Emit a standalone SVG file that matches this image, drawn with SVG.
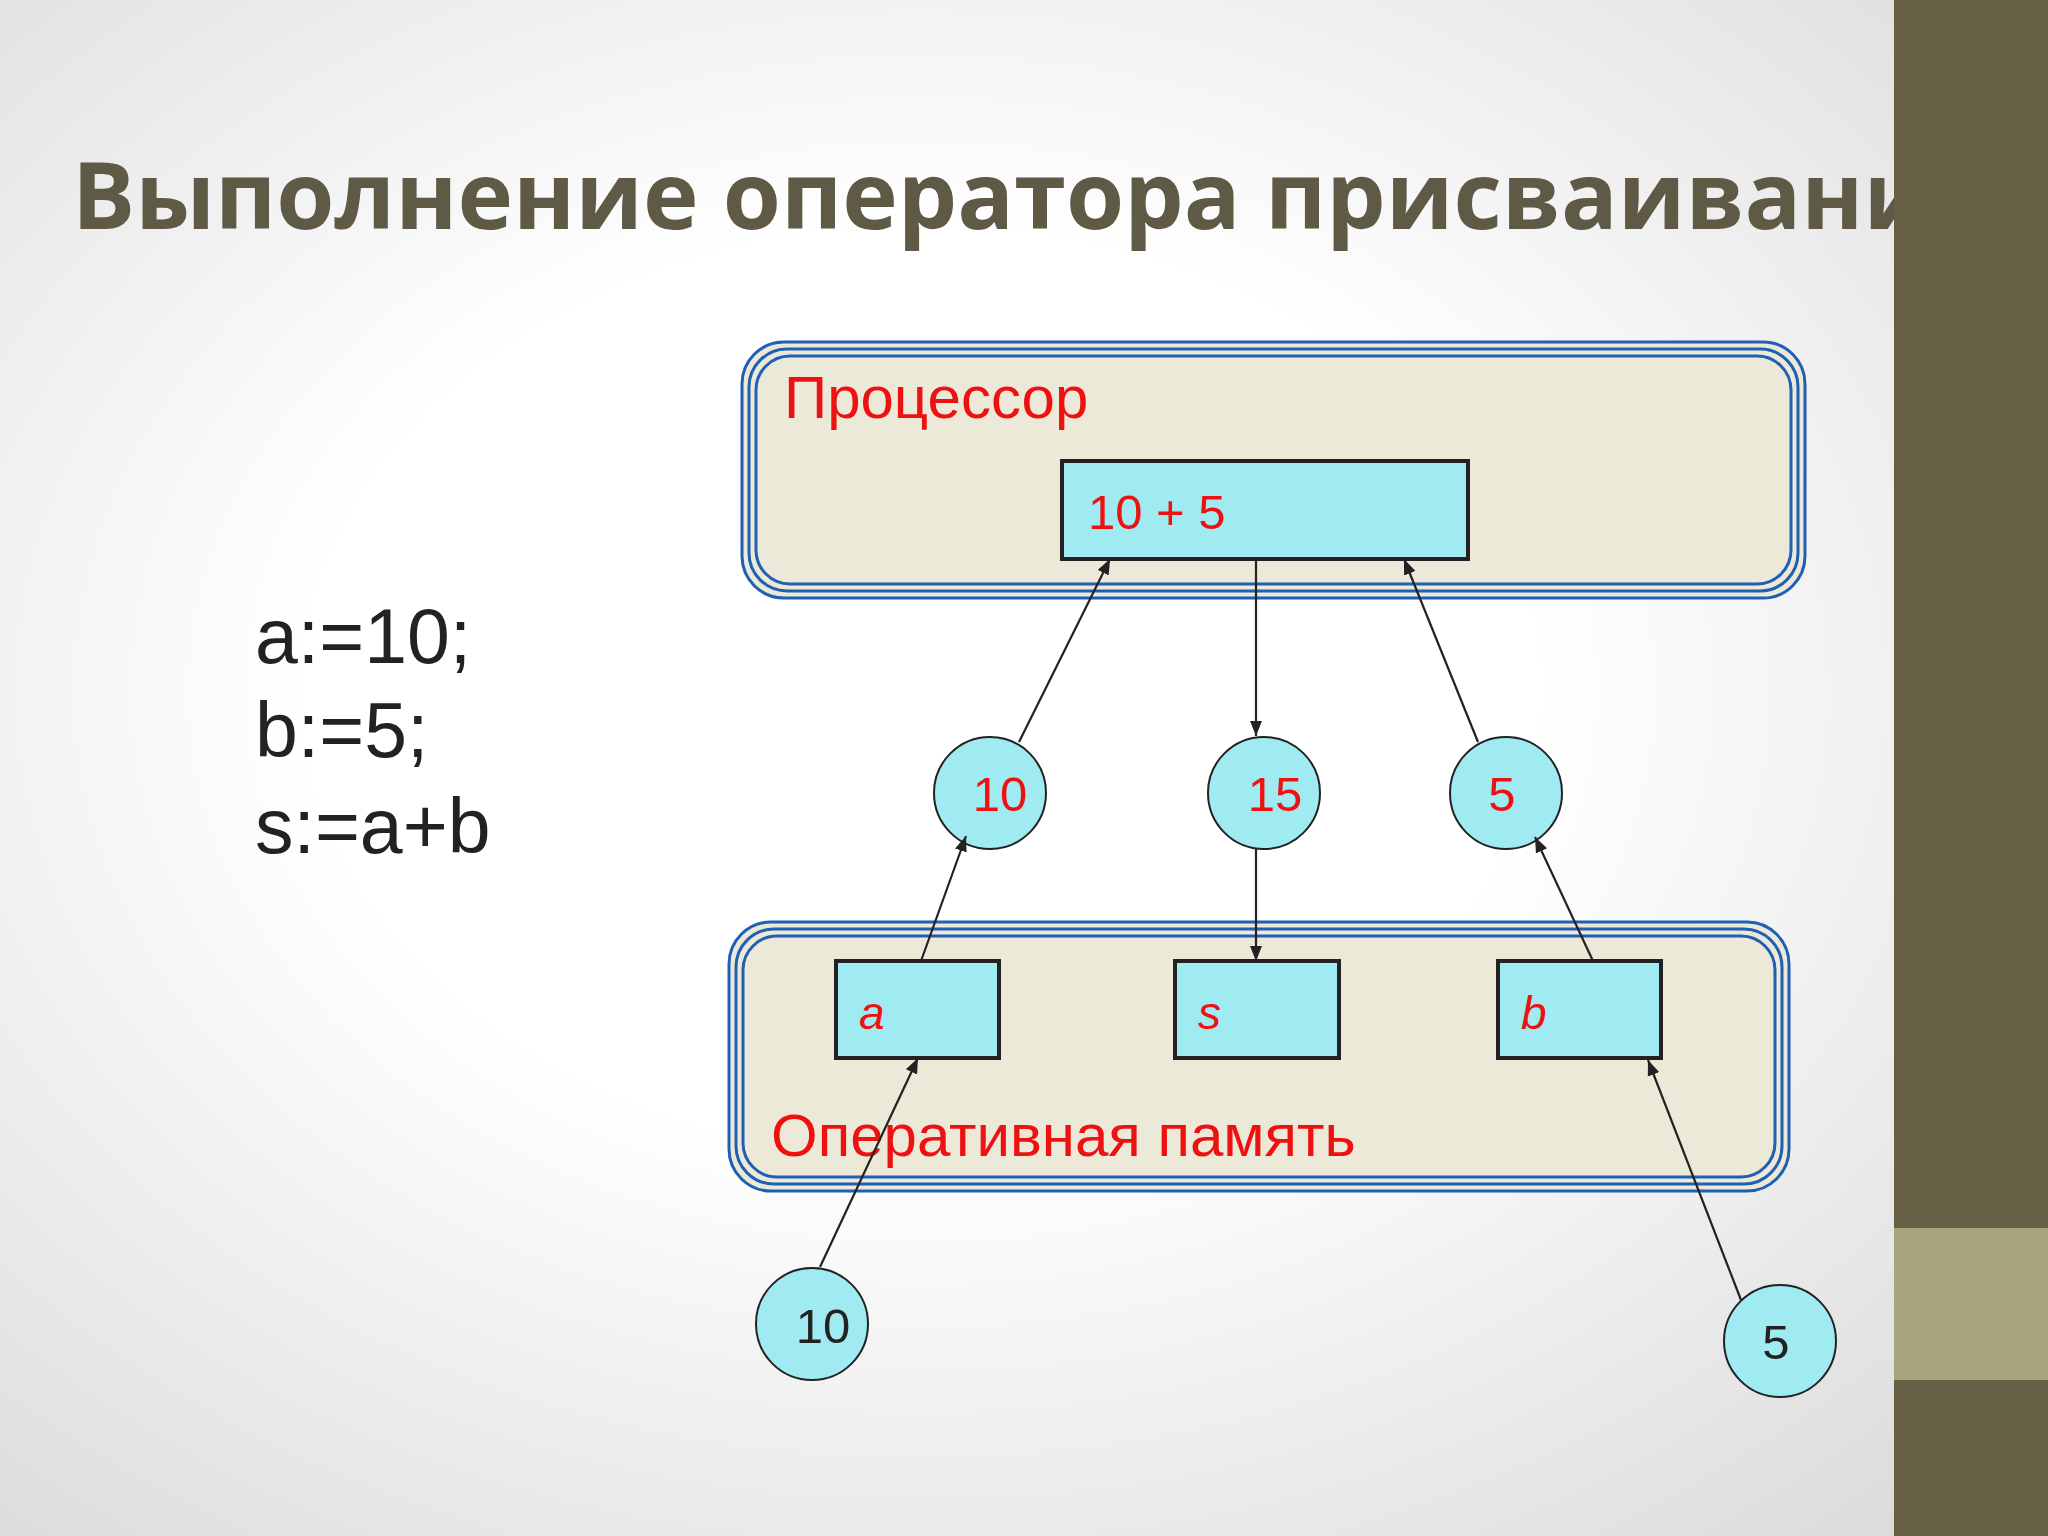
<svg xmlns="http://www.w3.org/2000/svg" width="2048" height="1536" viewBox="0 0 2048 1536">
<defs>
<radialGradient id="bg" cx="0.45" cy="0.45" r="0.75"><stop offset="0.4" stop-color="#ffffff"/><stop offset="1" stop-color="#d9d9d9"/></radialGradient>
<marker id="ar" viewBox="0 0 10 10" refX="10" refY="5" markerWidth="7" markerHeight="7" orient="auto"><path d="M0,1 L10,5 L0,9 z" fill="#222"/></marker>
</defs>
<style>
.pan{fill:#ece9d8;stroke:#1f5fb4;stroke-width:3}
.ln{fill:none;stroke:#1f5fb4;stroke-width:3}
.box{fill:#a0eaf2;stroke:#222;stroke-width:4}
.cir{fill:#a0eaf2;stroke:#222;stroke-width:2}
.red{fill:#ee1111;font-family:"Liberation Sans",Arial,sans-serif}
.blk{fill:#222;font-family:"Liberation Sans",Arial,sans-serif}
.c line{stroke:#222;stroke-width:2.2;marker-end:url(#ar)}
</style>
<rect width="2048" height="1536" fill="url(#bg)"/>
<text x="72" y="229" font-family="'Open Sans','DejaVu Sans',sans-serif" font-weight="bold" font-size="94" fill="#5f5a45">Выполнение оператора присваивания</text>
<rect x="1894" y="0" width="154" height="1536" fill="#665e45"/>
<rect x="1894" y="1228" width="154" height="152" fill="#a8a47c"/>
<g class="blk" font-size="77"><text x="255" y="663">a:=10;</text><text x="255" y="757">b:=5;</text><text x="255" y="853">s:=a+b</text></g>
<g id="cpu">
<rect class="pan" x="742" y="342" width="1063" height="256" rx="42"/>
<rect class="ln" x="749" y="349" width="1049" height="242" rx="38"/>
<rect class="ln" x="756" y="356" width="1035" height="228" rx="34"/>
<text class="red" x="784" y="418" font-size="60">Процессор</text>
</g>
<g id="expr"><rect class="box" x="1062" y="461" width="406" height="98"/><text class="red" x="1088" y="529" font-size="49">10 + 5</text></g>
<g id="mem">
<rect class="pan" x="729" y="922" width="1060" height="269" rx="42"/>
<rect class="ln" x="736" y="929" width="1046" height="255" rx="38"/>
<rect class="ln" x="743" y="936" width="1032" height="241" rx="34"/>
<text class="red" x="771" y="1156" font-size="60">Оперативная память</text>
</g>
<g id="va"><rect class="box" x="836" y="961" width="163" height="97"/><text class="red" x="859" y="1029" font-size="46" font-style="italic">a</text></g>
<g id="vs"><rect class="box" x="1175" y="961" width="164" height="97"/><text class="red" x="1198" y="1029" font-size="46" font-style="italic">s</text></g>
<g id="vb"><rect class="box" x="1498" y="961" width="163" height="97"/><text class="red" x="1521" y="1029" font-size="46" font-style="italic">b</text></g>
<g id="c10"><circle class="cir" cx="990" cy="793" r="56"/><text class="red" x="1000" y="811" font-size="49" text-anchor="middle">10</text></g>
<g id="c15"><circle class="cir" cx="1264" cy="793" r="56"/><text class="red" x="1275" y="811" font-size="49" text-anchor="middle">15</text></g>
<g id="c5"><circle class="cir" cx="1506" cy="793" r="56"/><text class="red" x="1502" y="811" font-size="49" text-anchor="middle">5</text></g>
<g id="in10"><circle class="cir" cx="812" cy="1324" r="56"/><text class="blk" x="823" y="1343" font-size="49" text-anchor="middle">10</text></g>
<g id="in5"><circle class="cir" cx="1780" cy="1341" r="56"/><text class="blk" x="1776" y="1359" font-size="49" text-anchor="middle">5</text></g>
<g class="c" id="connectors">
<line x1="1019" y1="742" x2="1110" y2="559"/>
<line x1="1256" y1="559" x2="1256" y2="736"/>
<line x1="1478" y1="742" x2="1404" y2="559"/>
<line x1="921" y1="961" x2="966" y2="836"/>
<line x1="1256" y1="849" x2="1256" y2="961"/>
<line x1="1593" y1="961" x2="1535" y2="837"/>
<line x1="820" y1="1267" x2="918" y2="1058"/>
<line x1="1741" y1="1300" x2="1648" y2="1060"/>
</g>
</svg>
